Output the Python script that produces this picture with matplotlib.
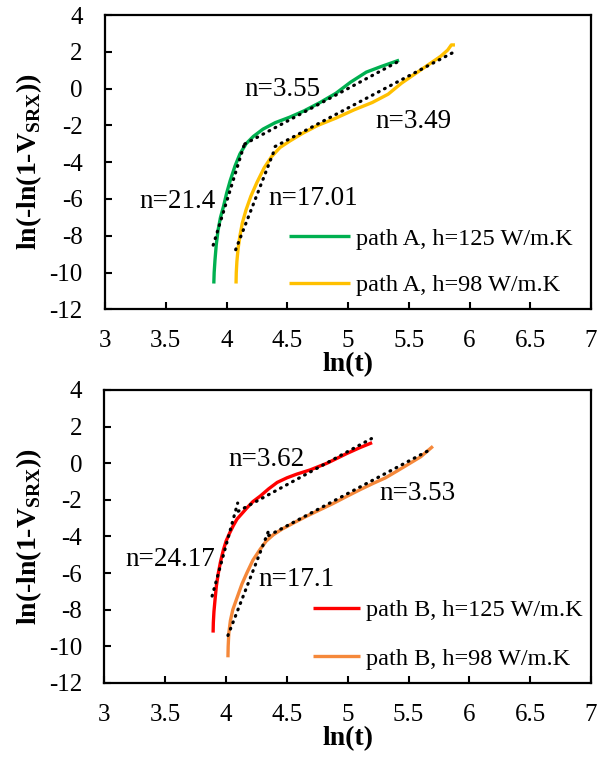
import numpy as np
import matplotlib
matplotlib.use("Agg")
import matplotlib.pyplot as plt

plt.rcParams['font.family'] = ['Liberation Serif', 'DejaVu Serif']
plt.rcParams['mathtext.fontset'] = 'custom'
plt.rcParams['mathtext.rm'] = 'Liberation Serif'
plt.rcParams['mathtext.bf'] = 'Liberation Serif:bold'
plt.rcParams['axes.unicode_minus'] = False

# ---- measured curves: ln(t) vs ln(-ln(1-X)) ----
a125_x = [3.895, 3.898, 3.905, 3.915, 3.93, 3.95, 3.975, 4.00, 4.03, 4.07, 4.11, 4.16, 4.22,
          4.30, 4.40, 4.52, 4.64, 4.77, 4.90, 5.02, 5.15, 5.27, 5.42]
a125_y = [-10.6, -10.0, -9.3, -8.5, -7.7, -7.0, -6.4, -5.7, -5.0, -4.2, -3.55, -3.0, -2.6,
          -2.2, -1.85, -1.55, -1.2, -0.75, -0.25, 0.35, 0.9, 1.2, 1.55]

a98_x = [4.078, 4.08, 4.085, 4.095, 4.11, 4.13, 4.16, 4.20, 4.25, 4.31, 4.37, 4.44, 4.52,
         4.62, 4.75, 4.90, 5.05, 5.20, 5.33, 5.44, 5.55, 5.66, 5.76, 5.82, 5.85, 5.88]
a98_y = [-10.6, -10.0, -9.4, -8.7, -8.0, -7.3, -6.6, -5.85, -5.1, -4.3, -3.7, -3.2, -2.85,
         -2.45, -2.0, -1.6, -1.15, -0.75, -0.3, 0.3, 0.8, 1.3, 1.75, 2.1, 2.38, 2.38]

b125_x = [3.893, 3.895, 3.90, 3.909, 3.92, 3.936, 3.955, 3.977, 4.00, 4.03, 4.06, 4.09, 4.13,
          4.17, 4.22, 4.28, 4.35, 4.42, 4.50, 4.58, 4.69, 4.83, 4.99, 5.10, 5.20]
b125_y = [-9.25, -8.7, -8.1, -7.45, -6.7, -6.0, -5.35, -4.75, -4.25, -3.8, -3.4, -3.05, -2.75,
          -2.45, -2.1, -1.8, -1.4, -1.05, -0.8, -0.6, -0.37, 0.0, 0.52, 0.85, 1.12]

b98_x = [4.015, 4.017, 4.022, 4.035, 4.055, 4.087, 4.13, 4.17, 4.22, 4.28, 4.33, 4.39, 4.46,
         4.55, 4.66, 4.77, 4.88, 4.99, 5.10, 5.21, 5.31, 5.40, 5.50, 5.60, 5.70]
b98_y = [-10.6, -10.0, -9.3, -8.6, -8.0, -7.4, -6.6, -6.0, -5.3, -4.7, -4.25, -3.9, -3.6,
         -3.28, -2.9, -2.55, -2.2, -1.82, -1.45, -1.1, -0.8, -0.45, -0.05, 0.35, 0.92]

# ---- Avrami fits: exponent n, point on the line, x-range ----
fit_n_top = [21.4, 3.55, 17.01, 3.49]
fit_pt_top = [(4.14, -3.16), (4.80, -0.70), (4.39, -3.40), (5.10, -0.70)]
fit_rng_top = [(3.89, 4.145), (4.15, 5.41), (4.075, 4.395), (4.40, 5.88)]

fit_n_bot = [24.17, 3.62, 17.1, 3.53]
fit_pt_bot = [(4.09, -2.30), (4.70, -0.45), (4.185, -6.50), (4.35, -3.95)]
fit_rng_bot = [(3.885, 4.095), (4.10, 5.195), (4.015, 4.35), (4.35, 5.68)]

# label text anchors
lab_top = [(3.595, -6.15), (4.46, -0.04), (4.71, -6.0), (5.54, -1.80)]
lab_bot = [(3.54, -5.25), (4.33, 0.18), (4.58, -6.37), (5.57, -1.64)]
lab_text_top = ['n=21.4', 'n=3.55', 'n=17.01', 'n=3.49']
lab_text_bot = ['n=24.17', 'n=3.62', 'n=17.1', 'n=3.53']

xticks = [3, 3.5, 4, 4.5, 5, 5.5, 6, 6.5, 7]
yticks = [4, 2, 0, -2, -4, -6, -8, -10, -12]
xtick_labels = ['3', '3.5', '4', '4.5', '5', '5.5', '6', '6.5', '7']

fig = plt.figure(figsize=(5.97, 7.58), dpi=100)
ax1 = fig.add_axes([0.176, 0.592, 0.814, 0.388])
ax2 = fig.add_axes([0.175, 0.099, 0.815, 0.3866])


def style(ax):
    ax.set_xlim(3, 7)
    ax.set_ylim(-12, 4)
    ax.set_xticks(xticks)
    ax.set_xticklabels(xtick_labels)
    ax.set_yticks(yticks)
    ax.tick_params(direction='in', length=5, width=1.5, labelsize=18)
    ax.tick_params(axis='x', pad=15)
    ax.tick_params(axis='y', pad=16)
    for s in ax.spines.values():
        s.set_linewidth(1.6)
    ax.set_xlabel('ln(t)', fontsize=20, fontweight='bold', labelpad=0)
    ax.set_ylabel(r'ln(-ln(1-V$_{\mathbf{SRX}}$))', fontsize=20, fontweight='bold')
    ax.yaxis.set_label_coords(-0.125, 0.5)


def draw_fits(ax, ns, pts, rngs):
    for n, (x0, y0), (lo, hi) in zip(ns, pts, rngs):
        xs = np.linspace(lo, hi, 50)
        ax.plot(xs, y0 + n * (xs - x0), color='black', linestyle=(0, (0.25, 1.9)),
                linewidth=2.3, dash_capstyle='round', zorder=4)


# ---- top panel: path A ----
ax1.plot(a125_x, a125_y, color='#00B050', linewidth=2.4, label='path A, h=125 W/m.K',
         solid_capstyle='butt', zorder=3)
ax1.plot(a98_x, a98_y, color='#FFC000', linewidth=2.4, label='path A, h=98 W/m.K',
         solid_capstyle='butt', zorder=3)
draw_fits(ax1, fit_n_top, fit_pt_top, fit_rng_top)
for (x, y), t in zip(lab_top, lab_text_top):
    ax1.text(x, y, t, fontsize=19.5, ha='center', va='center')
style(ax1)
ax1.legend(loc='center left', bbox_to_anchor=(0.379, 0.161), frameon=False, fontsize=17.5,
           handlelength=2.5, handletextpad=0.25, labelspacing=1.0, borderpad=0,
           borderaxespad=0)

# ---- bottom panel: path B ----
ax2.plot(b125_x, b125_y, color='#FF0000', linewidth=2.4, label='path B, h=125 W/m.K',
         solid_capstyle='butt', zorder=3)
ax2.plot(b98_x, b98_y, color='#F5883A', linewidth=2.4, label='path B, h=98 W/m.K',
         solid_capstyle='butt', zorder=3)
draw_fits(ax2, fit_n_bot, fit_pt_bot, fit_rng_bot)
for (x, y), t in zip(lab_bot, lab_text_bot):
    ax2.text(x, y, t, fontsize=19.5, ha='center', va='center')
style(ax2)
ax2.legend(loc='center left', bbox_to_anchor=(0.4286, 0.165), frameon=False, fontsize=17.5,
           handlelength=1.95, handletextpad=0.25, labelspacing=1.1, borderpad=0,
           borderaxespad=0)

fig.savefig('out.png', dpi=100)
